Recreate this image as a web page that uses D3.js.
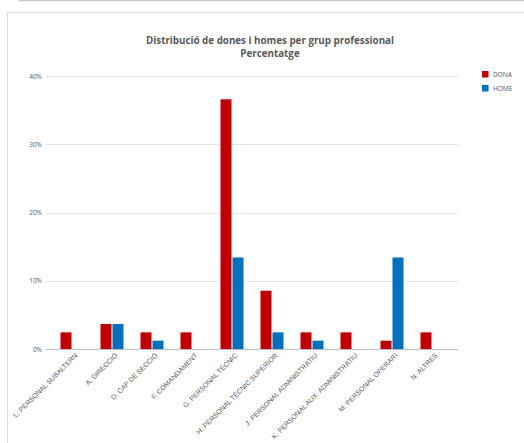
<!DOCTYPE html>
<html><head><meta charset="utf-8">
<script src="https://cdn.jsdelivr.net/npm/d3@7"></script>
<style>body{margin:0;background:#fff;} svg{display:block;font-family:"Open Sans","Liberation Sans",sans-serif;}</style>
</head><body>
<svg id="c" width="524" height="443"></svg>
<script>
const categories = ["L. PERSONAL SUBALTERN","A. DIRECCIÓ","D. CAP DE SECCIÓ","F. COMANDAMENT","G. PERSONAL TÈCNIC","H. PERSONAL TÈCNIC SUPERIOR","J. PERSONAL ADMINISTRATIU","K. PERSONAL AUX. ADMINISTRATIU","M. PERSONAL OPERARI","N. ALTRES"];
const dona = [2.44, 3.66, 2.44, 2.44, 36.59, 8.54, 2.44, 2.44, 1.22, 2.44];
const home = [0, 3.66, 1.22, 0, 13.41, 2.44, 1.22, 0, 13.41, 0];
const seriesNames = ["DONA","HOME"];
const colors = ["#c00000","#0070c0"];
const yTicks = [0,10,20,30,40];

const svg = d3.select("#c");
// frame lines
svg.append("line").attr("x1",19).attr("x2",524).attr("y1",0.5).attr("y2",0.5).attr("stroke","#c8c8c8").attr("stroke-width",1.5);
svg.append("path").attr("d","M7.5,443 V12.5 H524").attr("fill","none").attr("stroke","#d9d9d9").attr("stroke-width",1);

svg.append("text").attr("x",270).attr("y",44).attr("text-anchor","middle").attr("font-size",9.8).attr("font-weight","bold").attr("fill","#595959").text("Distribució de dones i homes per grup professional");
svg.append("text").attr("x",270).attr("y",57).attr("text-anchor","middle").attr("font-size",9.8).attr("font-weight","bold").attr("fill","#595959").text("Percentatge");

const x = d3.scaleBand().domain(categories).range([52,452]).paddingInner(0.4).paddingOuter(0.2);
const x1 = d3.scaleBand().domain(seriesNames).range([0, x.bandwidth()]);
const y = d3.scaleLinear().domain([0,40]).range([349,76]);

// gridlines
svg.append("g").selectAll("line").data(yTicks.slice(1)).join("line")
  .attr("x1",46).attr("x2",458).attr("y1",d=>Math.round(y(d))+0.5).attr("y2",d=>Math.round(y(d))+0.5)
  .attr("stroke","#e6e6e6").attr("stroke-width",1);

const yAxis = svg.append("g").attr("transform","translate(46,0)")
  .call(d3.axisLeft(y).tickValues(yTicks).tickFormat(d=>d+"%").tickSize(0).tickPadding(4));
yAxis.select(".domain").remove();
yAxis.selectAll("text").attr("font-size",6.5).attr("fill","#595959").attr("font-family","'Open Sans',sans-serif");

// bars
const data = categories.map((c,i)=>({c, vals:[dona[i],home[i]]}));
const g = svg.append("g").selectAll("g").data(data).join("g").attr("transform",d=>`translate(${x(d.c)},0)`);
g.selectAll("rect").data(d=>d.vals.map((v,j)=>({v,s:seriesNames[j],j}))).join("rect")
  .filter(d=>d.v>0)
  .attr("x",d=>x1(d.s)+0.5).attr("width",x1.bandwidth()-1)
  .attr("y",d=>y(d.v)).attr("height",d=>y(0)-y(d.v))
  .attr("fill",d=>colors[d.j]);

// x axis
const xAxis = svg.append("g").attr("transform","translate(0,349)")
  .call(d3.axisBottom(x).tickSize(0).tickPadding(0));
xAxis.select(".domain").attr("d","M46,0.5H458").attr("stroke","#bfbfbf").attr("stroke-width",1);
xAxis.selectAll(".tick text").attr("font-size",6.9).attr("fill","#595959").attr("y",0)
  .attr("text-anchor","end").attr("dy",0).attr("dx",0)
  .attr("transform","translate(6,7) rotate(-45)");

// legend
const lg = svg.append("g").selectAll("g").data(seriesNames).join("g")
  .attr("transform",(d,i)=>`translate(482,${71+i*14})`);
lg.append("rect").attr("width",6.5).attr("height",6.5).attr("fill",(d,i)=>colors[i]);
lg.append("text").attr("x",11).attr("y",6).attr("font-size",6.5).attr("fill","#595959").text(d=>d);
</script>
</body></html>
